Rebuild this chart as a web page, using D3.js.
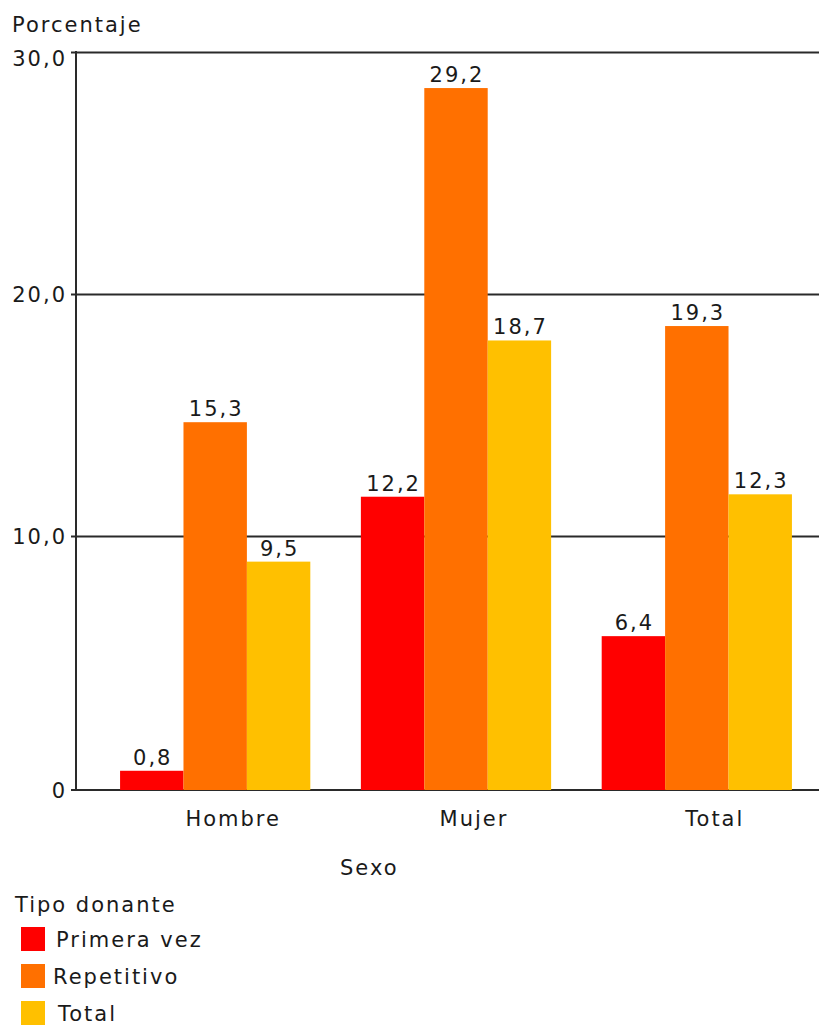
<!DOCTYPE html>
<html>
<head>
<meta charset="utf-8">
<script src="https://cdn.jsdelivr.net/npm/d3@7"></script>
<style>
  body { margin: 0; background: #fff; }
  svg text { font-family: "DejaVu Sans", Verdana, sans-serif; font-size: 21px; letter-spacing: 2px; fill: #1a1a1a; }
</style>
</head>
<body>
<svg id="chart" width="819" height="1026"></svg>
<script>
const categories = ["Hombre", "Mujer", "Total"];
const seriesNames = ["Primera vez", "Repetitivo", "Total"];
const primeraVez = [0.8, 12.2, 6.4];
const repetitivo = [15.3, 29.2, 19.3];
const totalDonantes = [9.5, 18.7, 12.3];
const yTicks = [10, 20, 30];
const colors = ["#ff0000", "#ff7000", "#ffc000"];

const fmt = (v) => d3.format(".1f")(v).replace(".", ",");
const seriesValues = [primeraVez, repetitivo, totalDonantes];

const chartWidth = 819;
const plotLeft = 76, plotRight = 836, plotBase = 790, plotTop = 52;

const svg = d3.select("#chart");

// Scales.
const x0 = d3.scaleBand().domain(categories).range([plotLeft, plotRight])
  .paddingInner(0.21).paddingOuter(0.183);
const x1 = d3.scaleBand().domain(seriesNames).range([0, x0.bandwidth()]);
const y = d3.scaleLinear().domain([0, 30.7]).range([plotBase, plotTop]);
// the grid in the original sits a bit above the bar scale
const yGrid = d3.scaleLinear().domain([0, 30]).range([778, plotTop]);

// Grid + y axis.
const gAxis = svg.append("g").attr("transform", `translate(${plotLeft},0)`)
  .call(d3.axisLeft(yGrid).tickValues(yTicks).tickFormat(fmt)
    .tickSizeInner(-(chartWidth - plotLeft)).tickSizeOuter(0).tickPadding(9));
gAxis.select(".domain").remove();
gAxis.selectAll(".tick line").attr("stroke", "#2a2a2a").attr("stroke-width", 2);
gAxis.selectAll(".tick").append("line")
  .attr("x1", -5).attr("x2", 0).attr("stroke", "#2a2a2a").attr("stroke-width", 2);
gAxis.attr("font-size", null).attr("font-family", null);
gAxis.selectAll(".tick text").attr("fill", null)
  .attr("dy", (d) => (d === 30 ? "0.62em" : "0.36em")); // top label pushed down a bit

// Zero line and label.
svg.append("line")
  .attr("x1", plotLeft - 5).attr("x2", chartWidth).attr("y1", y(0)).attr("y2", y(0))
  .attr("stroke", "#2a2a2a").attr("stroke-width", 2);
svg.append("text").attr("x", plotLeft - 9).attr("y", y(0)).attr("dy", "0.36em")
  .attr("text-anchor", "end").text("0");
svg.append("line")
  .attr("x1", plotLeft).attr("x2", plotLeft).attr("y1", plotTop - 1).attr("y2", y(0) + 1)
  .attr("stroke", "#2a2a2a").attr("stroke-width", 2);

// Bars.
const groups = svg.append("g").selectAll("g").data(categories).join("g")
  .attr("transform", (d) => `translate(${x0(d)},0)`);
const cells = (ci) => seriesNames.map((s, si) => ({s, si, v: seriesValues[si][ci]}));
groups.selectAll("rect").data((d, ci) => cells(ci)).join("rect")
  .attr("x", (d) => x1(d.s)).attr("width", x1.bandwidth())
  .attr("y", (d) => y(d.v)).attr("height", (d) => y(0) - y(d.v))
  .attr("fill", (d) => colors[d.si]);
groups.selectAll("text").data((d, ci) => cells(ci)).join("text")
  .attr("x", (d) => x1(d.s) + x1.bandwidth() / 2 + 1)
  .attr("y", (d) => y(d.v) - 6)
  .attr("text-anchor", "middle")
  .text((d) => fmt(d.v));

// Category labels.
svg.append("g").selectAll("text").data(categories).join("text")
  .attr("x", (d) => x0(d) + x0.bandwidth() / 2 + 18)
  .attr("y", 826)
  .attr("text-anchor", "middle")
  .text((d) => d);

// Axis titles.
svg.append("text").attr("x", 12).attr("y", 32).text("Porcentaje");
svg.append("text").attr("x", 340).attr("y", 875).text("Sexo");

// Legend.
svg.append("text").attr("x", 15).attr("y", 912).text("Tipo donante");
const legend = svg.append("g").selectAll("g").data(seriesNames).join("g")
  .attr("transform", (d, i) => `translate(21,${927 + i * 37})`);
legend.append("rect").attr("width", 24).attr("height", 24)
  .attr("fill", (d, i) => colors[i]);
legend.append("text").attr("x", (d, i) => [35, 32, 37][i]).attr("y", 20).text((d) => d);
</script>
</body>
</html>
